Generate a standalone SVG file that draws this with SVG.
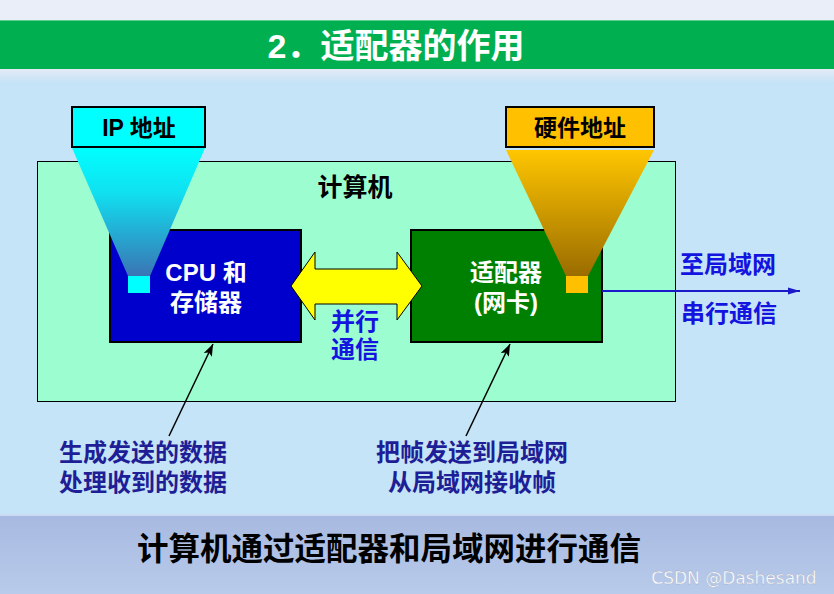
<svg xmlns="http://www.w3.org/2000/svg" width="834" height="594" viewBox="0 0 834 594">
<defs>
<linearGradient id="cyanG" x1="0" y1="0" x2="0" y2="1"><stop offset="0" stop-color="#00ffff"/><stop offset="0.35" stop-color="#10e0f0"/><stop offset="1" stop-color="#3a74b4"/></linearGradient>
<linearGradient id="goldG" x1="0" y1="0" x2="0" y2="1"><stop offset="0" stop-color="#ffc600"/><stop offset="1" stop-color="#9a6c00"/></linearGradient>
<linearGradient id="botG" x1="0" y1="0" x2="0" y2="1"><stop offset="0" stop-color="#a8b9e1"/><stop offset="1" stop-color="#b8cbea"/></linearGradient>
<linearGradient id="topG" x1="0" y1="0" x2="0" y2="1"><stop offset="0" stop-color="#e6ebf6"/><stop offset="1" stop-color="#c6e4f7"/></linearGradient>
<marker id="ptr" viewBox="0 0 12 10" refX="12" refY="5" markerWidth="12" markerHeight="10" orient="auto" markerUnits="userSpaceOnUse"><path d="M0,0.5 L12,5 L0,9.5 L2.5,5 z" fill="#000"/></marker>
<marker id="blueArr" viewBox="0 0 12 10" refX="12" refY="5" markerWidth="14" markerHeight="10" orient="auto" markerUnits="userSpaceOnUse"><path d="M0,1.5 L12,5 L0,8.5 z" fill="#1a1ac8"/></marker>
</defs>
<style>
text{font-family:"Liberation Sans","Noto Sans CJK SC",sans-serif;font-weight:bold;text-anchor:middle}
.w{fill:#fff;font-size:24px}
.b{fill:#1414e0;font-size:24px}
.n{fill:#1e1e96;font-size:24px}
.k{fill:#000;font-size:23px}
</style>
<rect x="0" y="0" width="834" height="594" fill="#c6e4f7"/>
<rect x="0" y="0" width="834" height="21" fill="#eaeef8"/>
<rect x="0" y="68" width="834" height="14" fill="url(#topG)"/>
<rect x="0" y="20" width="834" height="49" fill="#00b050"/>
<line x1="0" y1="20.5" x2="834" y2="20.5" stroke="#5ccf8e" stroke-width="1"/>
<text x="396" y="58" fill="#fff" style="font-size:34px">2．适配器的作用</text>
<rect x="0" y="515" width="834" height="79" fill="url(#botG)"/>
<line x1="0" y1="515" x2="834" y2="515" stroke="#c9dbf3" stroke-width="2"/>

<g id="computer">
<rect x="37.5" y="161.5" width="638" height="240" fill="#9cfdd0" stroke="#000" stroke-width="1"/>
<text class="k" x="355" y="196" style="font-size:25px">计算机</text>
</g>

<g id="cpu">
<rect x="110" y="230" width="191" height="112" fill="#0000cc" stroke="#000" stroke-width="2"/>
<text class="w" x="206" y="281">CPU 和</text>
<text class="w" x="206" y="311">存储器</text>
</g>

<g id="adapter">
<rect x="411" y="230" width="191" height="112" fill="#008000" stroke="#000" stroke-width="2"/>
<text class="w" x="506" y="281">适配器</text>
<text class="w" x="506" y="311">(网卡)</text>
</g>

<g id="ip">
<polygon points="72,148 205,148 150,276 128,276" fill="url(#cyanG)"/>
<rect x="128" y="276" width="22" height="17" fill="#00ffff"/>
<rect x="72" y="107" width="133" height="40" fill="#00ffff" stroke="#000" stroke-width="2"/>
<text class="k" x="139" y="136">IP 地址</text>
</g>

<g id="mac">
<polygon points="506,150 654,150 588,276 566,276" fill="url(#goldG)"/>
<rect x="566" y="276" width="22" height="17" fill="#ffc000"/>
<rect x="506" y="107" width="148" height="40" fill="#ffc000" stroke="#000" stroke-width="2"/>
<text class="k" x="580" y="136">硬件地址</text>
</g>

<g id="connectors">
<polygon points="291,286 315,252 315,269 397,269 397,252 422,286 397,320 397,304 315,304 315,320" fill="#ffff00" stroke="#000" stroke-width="1"/>
<line x1="602" y1="291" x2="800" y2="291" stroke="#1a1ac8" stroke-width="2" marker-end="url(#blueArr)"/>
<line x1="169" y1="436" x2="213" y2="344" stroke="#000" stroke-width="1.5" marker-end="url(#ptr)"/>
<line x1="466" y1="436" x2="510" y2="344" stroke="#000" stroke-width="1.5" marker-end="url(#ptr)"/>
</g>

<g id="labels">
<text class="b" x="355" y="330">并行</text>
<text class="b" x="355" y="358">通信</text>
<text class="b" x="728" y="273">至局域网</text>
<text class="b" x="729" y="322">串行通信</text>
<text class="n" x="143" y="461">生成发送的数据</text>
<text class="n" x="143" y="491">处理收到的数据</text>
<text class="n" x="472" y="461">把帧发送到局域网</text>
<text class="n" x="472" y="491">从局域网接收帧</text>
<text class="k" x="389" y="560" style="font-size:31.5px">计算机通过适配器和局域网进行通信</text>
</g>
<text x="734" y="584" style="font-family:'DejaVu Sans',sans-serif;font-weight:normal;font-size:17px;fill:#ffffff;stroke:#9aa4b8;stroke-width:0.3">CSDN @Dashesand</text>
</svg>
